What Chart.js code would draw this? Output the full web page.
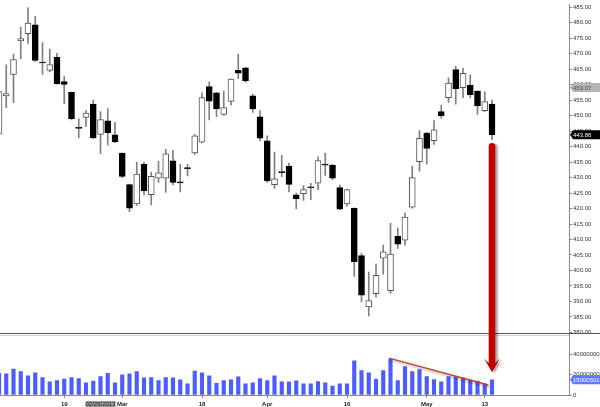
<!DOCTYPE html>
<html>
<head>
<meta charset="utf-8">
<script src="https://cdn.jsdelivr.net/npm/chart.js@4.4.0/dist/chart.umd.min.js"></script>
<style>
  html, body { margin: 0; padding: 0; background: #fff; }
  #wrap { width: 600px; height: 407px; }
</style>
</head>
<body>
<div id="wrap"><canvas id="chart" width="600" height="407"></canvas></div>
<script>
// daily candles, 05 Feb 2013 .. 14 May 2013 (index = trading day)
const opens = [444.0, 456.4, 463.3, 474.1, 476.5, 479.3, 467.0, 464.6, 468.8, 461.0,
  457.5, 445.9, 449.4, 453.7, 443.9, 448.3, 443.8, 437.9, 427.7, 421.5,
  434.3, 424.5, 429.8, 429.8, 435.4, 428.3, 432.9, 438.0, 441.4, 459.4,
  457.4, 450.4, 454.6, 464.6, 465.4, 456.4, 449.6, 441.9, 427.7, 431.6,
  433.6, 424.4, 424.8, 426.7, 428.2, 434.0, 434.0, 426.8, 421.5, 420.1,
  404.8, 388.2, 392.5, 404.0, 393.5, 411.0, 409.8, 420.4, 435.1, 444.4,
  441.9, 451.3, 455.8, 464.9, 459.0, 459.8, 457.9, 451.6, 453.7];
const highs = [459.7, 466.4, 469.9, 478.6, 484.8, 482.1, 473.6, 471.5, 470.1, 462.7,
  457.6, 449.0, 451.6, 455.0, 451.3, 452.3, 447.8, 438.0, 427.9, 435.0,
  435.0, 431.8, 435.3, 439.1, 438.8, 434.3, 434.3, 443.9, 457.4, 460.9,
  457.5, 457.9, 461.9, 469.9, 465.6, 456.9, 451.6, 443.5, 438.2, 437.2,
  434.7, 425.0, 427.4, 428.1, 436.7, 437.8, 434.2, 427.6, 426.3, 420.2,
  405.5, 399.5, 402.1, 408.2, 415.2, 413.7, 418.6, 433.7, 445.2, 444.6,
  448.4, 453.4, 462.2, 465.9, 465.3, 463.2, 458.0, 457.7, 455.0];
const lows = [442.2, 452.6, 454.2, 468.3, 473.3, 467.5, 463.3, 464.1, 460.2, 453.9,
  448.6, 442.8, 446.5, 442.6, 437.7, 440.5, 441.3, 430.0, 419.0, 421.0,
  424.4, 421.2, 428.4, 425.2, 427.6, 425.4, 430.5, 437.5, 441.2, 448.6,
  449.7, 450.1, 453.4, 461.9, 460.8, 451.0, 441.8, 428.4, 426.5, 430.3,
  425.4, 419.9, 422.6, 422.9, 426.1, 430.7, 429.3, 419.6, 420.8, 398.1,
  389.9, 385.3, 391.4, 398.8, 392.7, 407.1, 408.2, 420.1, 432.1, 434.3,
  440.7, 449.2, 454.3, 453.7, 455.8, 455.8, 450.4, 451.3, 442.2];
const closes = [457.8, 457.1, 468.1, 474.9, 479.9, 467.8, 467.0, 466.5, 460.3, 460.1,
  449.0, 445.9, 450.8, 442.8, 448.7, 444.5, 441.5, 430.4, 420.1, 431.1,
  425.7, 430.4, 431.5, 437.7, 428.4, 428.3, 432.9, 443.5, 455.8, 454.7,
  452.2, 452.6, 461.8, 463.7, 461.3, 452.2, 442.7, 428.9, 429.6, 431.6,
  427.8, 423.2, 426.1, 426.7, 435.5, 434.0, 429.8, 419.8, 426.1, 402.8,
  392.0, 390.3, 398.4, 406.0, 405.3, 408.5, 417.2, 430.0, 442.7, 439.4,
  445.4, 450.0, 460.5, 458.7, 463.7, 456.8, 453.1, 454.5, 443.86];
const volumes = [21500000, 20800000, 25700000, 23100000, 18900000, 21800000, 17200000, 13000000, 14300000, 15600000,
  17200000, 16300000, 12000000, 13700000, 18200000, 21500000, 12000000, 19800000, 20800000, 23100000,
  16900000, 17200000, 14300000, 17200000, 16900000, 15000000, 11100000, 23700000, 21800000, 18900000,
  11400000, 14300000, 15000000, 17900000, 11100000, 12000000, 16300000, 14300000, 18900000, 13000000,
  13000000, 14000000, 11100000, 11100000, 13300000, 12000000, 8800000, 11100000, 11100000, 33800000,
  24100000, 21800000, 15600000, 24100000, 35100000, 14300000, 28000000, 23100000, 25000000, 18200000,
  15300000, 13000000, 18200000, 18200000, 16900000, 15000000, 13700000, 11100000, 15000501];

// bottom axis labels (trading-day index -> text)
const tickIdx = [9, 17, 28, 37, 48, 59, 67];
const tickLabels = ['19', 'Mar', '18', 'Apr', '16', 'May', '13'];

// axis tick values
const priceTicks = [380, 385, 390, 395, 400, 405, 410, 415, 420, 425, 430, 435, 440, 445,
  450, 455, 460, 465, 470, 475, 480, 485];
const volumeTicks = [0, 20000000, 40000000];

// right-side value tags and crosshair date
const refPrice = 459.07;
const lastPrice = 443.86;
const lastVolume = 15000501;
const dateTagIdx = 14;
const dateTagText = '02/26/2013';

// annotations drawn over the chart
const arrowIdx = 68, arrowTopPrice = 441.2, arrowTipVolume = 22500000;
const trendFrom = { idx: 53.8, vol: 36400000 };
const trendTo = { idx: 67.5, vol: 9800000 };

const idx = opens.map((_, i) => i);
const isUp = i => closes[i] > opens[i];

const bodies = idx.map(i => ({ x: i, y: [opens[i], closes[i]] }));
const wicks = idx.map(i => ({ x: i, y: [lows[i], highs[i]] }));
const vols = idx.map(i => ({ x: i, y: volumes[i] }));

const FONT = 'Liberation Sans, Arial, sans-serif';

const overlays = {
  id: 'overlays',
  afterDraw(chart) {
    const { ctx, chartArea: area } = chart;
    const xs = chart.scales.x, ys = chart.scales.y, yv = chart.scales.yv;
    ctx.save();

    // pane separator
    const sep = Math.round(ys.bottom);
    ctx.lineWidth = 1;
    ctx.strokeStyle = '#555';
    ctx.beginPath(); ctx.moveTo(0, sep - 0.5); ctx.lineTo(chart.width, sep - 0.5); ctx.stroke();
    ctx.strokeStyle = '#d4d4d4';
    ctx.beginPath(); ctx.moveTo(0, sep + 1.5); ctx.lineTo(area.right, sep + 1.5); ctx.stroke();

    // volume trend line
    ctx.save();
    ctx.shadowColor = 'rgba(0,0,0,0.3)';
    ctx.shadowOffsetX = 1; ctx.shadowOffsetY = 2; ctx.shadowBlur = 2;
    ctx.strokeStyle = '#c8412c';
    ctx.lineWidth = 1.5;
    ctx.beginPath();
    ctx.moveTo(xs.getPixelForValue(trendFrom.idx), yv.getPixelForValue(trendFrom.vol));
    ctx.lineTo(xs.getPixelForValue(trendTo.idx), yv.getPixelForValue(trendTo.vol));
    ctx.stroke();
    ctx.restore();

    // red arrow
    const ax = xs.getPixelForValue(arrowIdx);
    const top = ys.getPixelForValue(arrowTopPrice);
    const tip = yv.getPixelForValue(arrowTipVolume);
    const hw = 3.3;
    ctx.save();
    ctx.shadowColor = 'rgba(0,0,0,0.35)';
    ctx.shadowOffsetX = 2.5; ctx.shadowOffsetY = 1; ctx.shadowBlur = 2;
    ctx.fillStyle = '#c40000';
    ctx.beginPath();
    ctx.moveTo(ax - hw, tip - 9);
    ctx.lineTo(ax - hw, top + hw);
    ctx.arc(ax, top + hw, hw, Math.PI, 0);
    ctx.lineTo(ax + hw, tip - 9);
    ctx.lineTo(ax + 8, tip - 14);
    ctx.lineTo(ax, tip);
    ctx.lineTo(ax - 8, tip - 14);
    ctx.closePath();
    ctx.fill();
    ctx.restore();

    // value tags on the right axis
    const tag = (yp, text, bg, fg) => {
      const l = area.right + 1;
      ctx.fillStyle = bg;
      ctx.beginPath();
      ctx.moveTo(l, yp);
      ctx.lineTo(l + 3, yp - 4.5);
      ctx.lineTo(chart.width, yp - 4.5);
      ctx.lineTo(chart.width, yp + 4.5);
      ctx.lineTo(l + 3, yp + 4.5);
      ctx.closePath();
      ctx.fill();
      ctx.fillStyle = fg;
      ctx.font = '6px ' + FONT;
      ctx.textBaseline = 'middle';
      ctx.textAlign = 'left';
      ctx.fillText(text, l + 3, yp + 0.5);
    };
    tag(ys.getPixelForValue(refPrice), refPrice.toFixed(2), '#b4b4b4', '#555');
    tag(ys.getPixelForValue(lastPrice), lastPrice.toFixed(2), '#000', '#fff');
    tag(yv.getPixelForValue(lastVolume), String(lastVolume), '#5c78ff', '#fff');

    // crosshair date tag
    const dx = xs.getPixelForValue(dateTagIdx);
    ctx.fillStyle = '#9a9a9a';
    ctx.fillRect(dx - 15, xs.top + 6, 30, 7);
    ctx.fillStyle = '#222';
    ctx.font = '6px ' + FONT;
    ctx.textAlign = 'center';
    ctx.textBaseline = 'middle';
    ctx.fillText(dateTagText, dx, xs.top + 9.5);

    ctx.restore();
  }
};

new Chart(document.getElementById('chart'), {
  type: 'bar',
  data: {
    datasets: [
      {
        data: bodies,
        yAxisID: 'y',
        grouped: false,
        barThickness: 6,
        minBarLength: 1,
        borderWidth: 1,
        borderSkipped: false,
        backgroundColor: idx.map(i => isUp(i) ? '#ffffff' : '#000000'),
        borderColor: idx.map(i => isUp(i) ? '#555555' : '#000000')
      },
      {
        data: wicks,
        yAxisID: 'y',
        grouped: false,
        barThickness: 1,
        borderWidth: 0,
        backgroundColor: '#808080'
      },
      {
        data: vols,
        yAxisID: 'yv',
        grouped: false,
        barThickness: 3.5,
        borderWidth: 0,
        backgroundColor: '#4c5dff'
      }
    ]
  },
  options: {
    responsive: false,
    animation: false,
    layout: { padding: 0 },
    plugins: { legend: { display: false }, tooltip: { enabled: false } },
    scales: {
      x: {
        type: 'linear',
        min: 0.138,
        max: 78.62,
        offset: false,
        grid: { drawOnChartArea: false, offset: false, tickLength: 3, color: '#888' },
        border: { color: '#888' },
        afterBuildTicks: s => { s.ticks = tickIdx.map(v => ({ value: v })); },
        afterFit: s => { s.height = 12; },
        ticks: {
          autoSkip: false,
          maxRotation: 0,
          padding: 3,
          color: '#222',
          font: { family: FONT, size: 6, weight: 'bold' },
          callback: v => tickLabels[tickIdx.indexOf(v)]
        }
      },
      y: {
        type: 'linear',
        position: 'right',
        stack: 'panes',
        stackWeight: 333,
        min: 379.57,
        max: 485.86,
        grid: { drawOnChartArea: false, tickLength: 3, color: '#888' },
        border: { color: '#888' },
        afterFit: s => { s.width = 31; },
        afterBuildTicks: s => { s.ticks = priceTicks.map(v => ({ value: v })); },
        ticks: {
          autoSkip: false,
          padding: 1,
          color: '#333',
          font: { family: FONT, size: 6 },
          callback: v => v.toFixed(2)
        }
      },
      yv: {
        type: 'linear',
        position: 'right',
        stack: 'panes',
        stackWeight: 62,
        min: 0,
        max: 60490000,
        grid: { drawOnChartArea: false, tickLength: 3, color: '#888' },
        border: { color: '#888' },
        afterFit: s => { s.width = 31; },
        afterBuildTicks: s => { s.ticks = volumeTicks.map(v => ({ value: v })); },
        ticks: {
          autoSkip: false,
          padding: 1,
          color: '#333',
          font: { family: FONT, size: 6 },
          callback: v => String(v)
        }
      }
    }
  },
  plugins: [overlays]
});
</script>
</body>
</html>
